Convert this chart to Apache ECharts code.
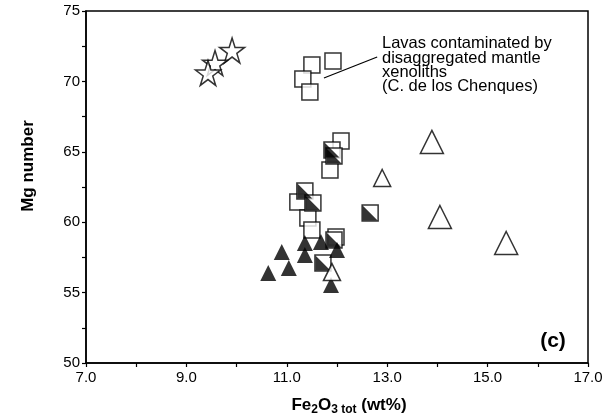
<!DOCTYPE html>
<html>
<head>
<meta charset="utf-8">
<script src="https://cdn.jsdelivr.net/npm/echarts@6/dist/echarts.min.js"></script>
<style>
  html, body { margin: 0; padding: 0; background: #fff; }
  #chart { width: 610px; height: 415px; }
</style>
</head>
<body>
<div id="chart"></div>
<script>
// values: [Fe2O3 tot, Mg number]
const stars = [[9.91, 72.2], [9.57, 71.3], [9.43, 70.6]];
const openSquares = [
    [11.50, 71.16], [11.92, 71.45], [11.32, 70.17], [11.46, 69.25],
    [12.08, 65.77], [11.86, 63.71], [11.22, 61.43], [11.42, 60.30],
    [11.50, 59.45], [11.98, 58.95]
];
const halfSquares = [
    [11.90, 65.13], [11.94, 64.70], [11.36, 62.22], [11.52, 61.36],
    [12.66, 60.65], [11.94, 58.74], [11.72, 57.10]
];
const filledTriangles = [
    [11.36, 58.52], [11.68, 58.59], [10.90, 57.88], [11.36, 57.67],
    [12.00, 58.03], [11.04, 56.75], [10.63, 56.39], [11.88, 55.54]
];
const openTrianglesSmall = [[12.90, 63.14], [11.90, 56.46]];
const openTrianglesLarge = [[13.89, 65.70], [14.05, 60.37], [15.37, 58.52]];
const leader = [[11.74, 70.24], [12.80, 71.73]];
const noteLines = ['Lavas contaminated by', 'disaggregated mantle', 'xenoliths', '(C. de los Chenques)'];

const font = 'Liberation Sans, Arial, Helvetica, sans-serif';

const openStyle = { color: '#fff', borderColor: '#000', borderWidth: 1.5 };

function scatter(data, symbol, size, itemStyle) {
    return {
        type: 'scatter',
        data: data,
        symbol: symbol,
        symbolSize: size,
        itemStyle: itemStyle,
        emphasis: { disabled: true },
        silent: true
    };
}

const chart = echarts.init(document.getElementById('chart'));
const options = {
    animation: false,
    grid: {
        left: 86, right: 22, top: 11, bottom: 52,
        outerBoundsMode: 'none',
        show: true, borderColor: '#000', borderWidth: 1.5
    },
    xAxis: {
        type: 'value',
        min: 7, max: 17, interval: 1,
        splitLine: { show: false },
        axisLine: { lineStyle: { color: '#000', width: 1.5 } },
        axisTick: { length: 4, lineStyle: { color: '#000', width: 1.2 } },
        axisLabel: {
            color: '#000', fontSize: 15, fontFamily: font, margin: 7,
            formatter: v => (Math.round(v) % 2 === 1 ? v.toFixed(1) : '')
        },
        name: 'Fe{sub|2}O{sub|3 tot} (wt%)',
        nameLocation: 'middle',
        nameGap: 31,
        nameTextStyle: {
            color: '#000', fontSize: 17, fontWeight: 'bold', fontFamily: font,
            padding: [0, 0, 0, 24],
            rich: {
                sub: { fontSize: 12, fontWeight: 'bold', fontFamily: font, color: '#000',
                       verticalAlign: 'bottom', padding: [10, 0, 0, 0] }
            }
        }
    },
    yAxis: {
        type: 'value',
        min: 50, max: 75, interval: 2.5,
        splitLine: { show: false },
        axisLine: { show: true, lineStyle: { color: '#000', width: 1.5 } },
        axisTick: { show: true, length: 4, lineStyle: { color: '#000', width: 1.2 } },
        axisLabel: {
            color: '#000', fontSize: 15, fontFamily: font, margin: 6,
            formatter: v => (v % 5 === 0 ? String(v) : '')
        }
    },
    graphic: [
        {
            type: 'text', x: 28, y: 166, rotation: Math.PI / 2,
            style: { text: 'Mg number', fill: '#000', font: 'bold 17px ' + font,
                     align: 'center', verticalAlign: 'middle' }
        },
        {
            type: 'text', x: 553, y: 341,
            style: { text: '(c)', fill: '#000', font: 'bold 21px ' + font,
                     align: 'center', verticalAlign: 'middle' }
        }
    ].concat(noteLines.map((t, i) => ({
        type: 'text', x: 382, y: [43, 58, 72, 86][i],
        style: { text: t, fill: '#000', font: '16.5px ' + font, verticalAlign: 'middle' }
    }))),
    series: [
        scatter(stars, 'path://M50,0 L61.8,36.3 L100,36.3 L69.1,58.8 L80.9,95.1 L50,72.7 L19.1,95.1 L30.9,58.8 L0,36.3 L38.2,36.3 Z',
                25, openStyle),
        scatter(openSquares, 'rect', 16, openStyle),
        scatter(halfSquares, 'rect', 16, openStyle),
        scatter(halfSquares, 'path://M0,0 L0,10 L10,10 Z', 15, { color: '#000' }),
        scatter(filledTriangles, 'triangle', 16, { color: '#000' }),
        scatter(openTrianglesSmall, 'triangle', 17, openStyle),
        Object.assign(scatter(openTrianglesLarge, 'triangle', 23, openStyle), {
            markLine: {
                silent: true,
                symbol: 'none',
                label: { show: false },
                lineStyle: { color: '#000', width: 1.2, type: 'solid' },
                data: [[{ coord: leader[0] }, { coord: leader[1] }]]
            }
        })
    ]
};

chart.setOption(options);
</script>
</body>
</html>
